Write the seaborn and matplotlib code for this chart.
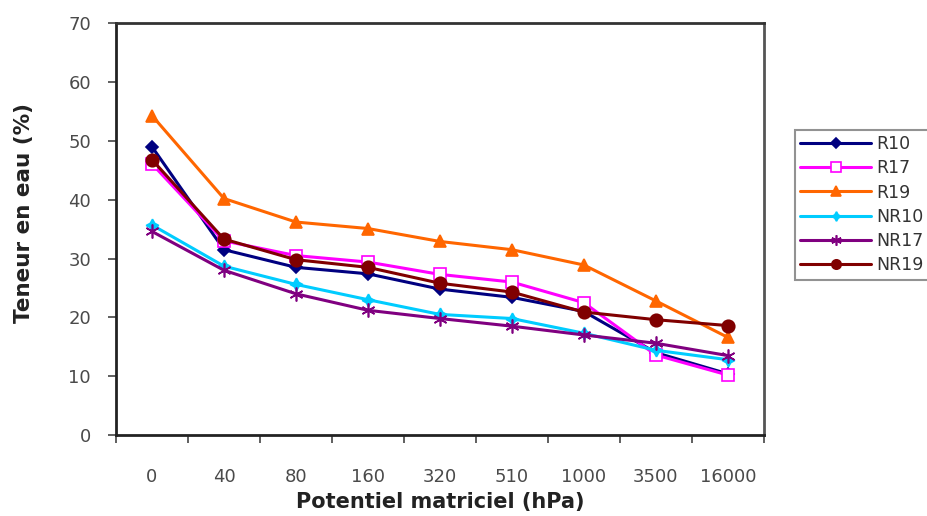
import matplotlib
matplotlib.use("Agg")
import matplotlib.pyplot as plt
import seaborn as sns
import pandas as pd
from matplotlib.ticker import FixedLocator

# Pressure steps (hPa) used as categories on the x axis
potentials = ["0", "40", "80", "160", "320", "510", "1000", "3500", "16000"]

# Water content (%) per soil sample
r10 = [49.0, 31.5, 28.5, 27.4, 24.8, 23.4, 21.0, 14.0, 10.4]
r17 = [46.1, 33.0, 30.5, 29.4, 27.3, 26.0, 22.5, 13.6, 10.2]
r19 = [54.3, 40.2, 36.2, 35.1, 32.9, 31.5, 28.9, 22.8, 16.6]
nr10 = [35.7, 28.7, 25.6, 23.0, 20.5, 19.8, 17.3, 14.4, 12.8]
nr17 = [34.6, 28.0, 24.0, 21.2, 19.8, 18.5, 17.0, 15.6, 13.5]
nr19 = [46.8, 33.3, 29.8, 28.5, 25.8, 24.3, 20.9, 19.6, 18.6]

series_names = ["R10", "R17", "R19", "NR10", "NR17", "NR19"]
series_values = [r10, r17, r19, nr10, nr17, nr19]

styles = {
    "R10": dict(color="#000080", marker="D", ms=6.5, mfc="#000080", mec="#000080"),
    "R17": dict(color="#FF00FF", marker="s", ms=9, mfc="white", mec="#FF00FF"),
    "R19": dict(color="#FF6600", marker="^", ms=9, mfc="#FF6600", mec="#FF6600"),
    "NR10": dict(color="#00CCFF", marker=(4, 1, 0), ms=9, mfc="#00CCFF", mec="#00CCFF"),
    "NR17": dict(color="#800080", marker=(6, 2, 0), ms=10, mfc="#800080", mec="#800080"),
    "NR19": dict(color="#800000", marker="o", ms=9, mfc="#800000", mec="#800000"),
}

df = pd.DataFrame({
    "pos": list(range(len(potentials))) * len(series_names),
    "teneur": [v for vals in series_values for v in vals],
    "serie": [n for n in series_names for _ in potentials],
})

sns.set_style("white")
plt.rcParams["font.family"] = ["DejaVu Sans"]

fig = plt.figure(figsize=(9.28, 5.16), dpi=100)
ax = fig.add_axes([0.125, 0.157, 0.698, 0.798])

for name in series_names:
    st = styles[name]
    sub = df[df["serie"] == name]
    sns.lineplot(data=sub, x="pos", y="teneur", ax=ax, label=name,
                 color=st["color"], marker=st["marker"], markersize=st["ms"],
                 markerfacecolor=st["mfc"], markeredgecolor=st["mec"],
                 markeredgewidth=1.2, linewidth=2.2)

ax.set_xlim(-0.5, len(potentials) - 0.5)
ax.set_ylim(0, 70)
ax.set_yticks(range(0, 71, 10))

# category labels centred, tick marks on the boundaries between categories
ax.xaxis.set_major_locator(FixedLocator(range(len(potentials))))
ax.set_xticklabels(potentials)
ax.xaxis.set_minor_locator(FixedLocator([i - 0.5 for i in range(len(potentials) + 1)]))
ax.tick_params(axis="x", which="major", length=0, pad=24, labelsize=13, labelcolor="#4a4a4a")
ax.tick_params(axis="x", which="minor", bottom=True, length=6, width=1.2, color="#444444", direction="out")
ax.tick_params(axis="y", which="major", left=True, length=6, width=1.2, color="#444444",
               direction="out", pad=12, labelsize=13, labelcolor="#4a4a4a")

for side in ["left", "right", "top", "bottom"]:
    ax.spines[side].set_visible(True)
    ax.spines[side].set_color("#222222")
    ax.spines[side].set_linewidth(2.0)
ax.spines["right"].set_color("#555555")
ax.spines["top"].set_color("#333333")

ax.set_xlabel("Potentiel matriciel (hPa)", fontsize=15, fontweight="bold", color="#222222")
ax.set_ylabel("Teneur en eau (%)", fontsize=15.5, fontweight="bold", color="#222222")
ax.xaxis.set_label_coords(0.5, -0.138)
ax.yaxis.set_label_coords(-0.127, 0.54)

leg = ax.legend(loc="upper left", bbox_to_anchor=(1.048, 0.741), frameon=True, fancybox=False,
                shadow=False, fontsize=12.5, handlelength=4.1, handletextpad=0.3,
                labelspacing=0.36, borderpad=0.3, borderaxespad=0.0, markerscale=0.75)
leg.get_frame().set_edgecolor("#777777")
leg.get_frame().set_linewidth(1.5)
for t in leg.get_texts():
    t.set_color("#333333")

fig.savefig("out.png", dpi=100, facecolor="white")
